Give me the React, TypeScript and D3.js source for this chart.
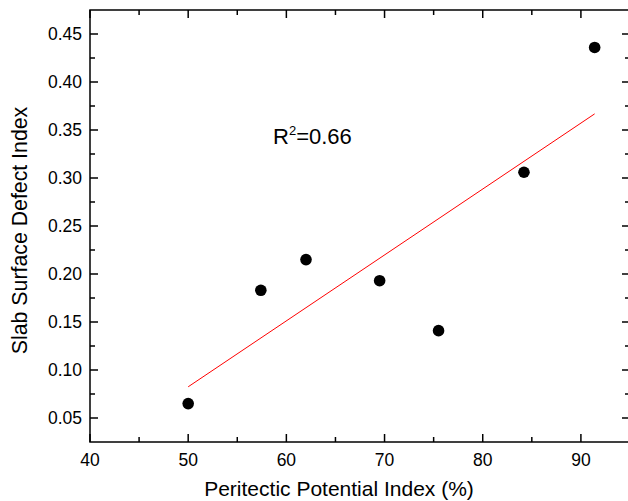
import React from "react";
import * as d3 from "d3";

const xValues = [50, 57.4, 62.0, 69.5, 75.5, 84.2, 91.4];
const yValues = [0.065, 0.183, 0.215, 0.193, 0.141, 0.306, 0.436];
const fitX = [50, 91.4];
const fitY = [0.0825, 0.3668];
const xMajor = [40, 50, 60, 70, 80, 90];
const xMinor = [45, 55, 65, 75, 85, 95];
const yMajor = [0.05, 0.1, 0.15, 0.2, 0.25, 0.3, 0.35, 0.4, 0.45];
const yMinor = [0.075, 0.125, 0.175, 0.225, 0.275, 0.325, 0.375, 0.425];
const xTitle = "Peritectic Potential Index (%)";
const yTitle = "Slab Surface Defect Index";

const W = 628, H = 501;
const L = 90, R = 630, T = 10, B = 442;
const FONT = "Arial, 'Liberation Sans', sans-serif";

export default function App() {
  const x = d3.scaleLinear().domain([40, 95]).range([L, R]);
  const y = d3.scaleLinear().domain([0.025, 0.475]).range([B, T]);
  const line = d3.line<number>().x((d) => x(d)).y((_, i) => y(fitY[i]));
  const major = 8, minor = 5;
  const ax = { stroke: "#000", strokeWidth: 1.5 };
  return (
    <svg width={W} height={H} style={{ position: "absolute", left: 0, top: 0, background: "#fff" }} fontFamily={FONT}>
      <rect x={0} y={0} width={W} height={H} fill="#fff" />
      <path d={line(fitX) || ""} fill="none" stroke="#ff0000" strokeWidth={1} />
      {xValues.map((v, i) => (
        <circle key={i} cx={x(v)} cy={y(yValues[i])} r={5.8} fill="#000" />
      ))}
      <rect x={L} y={T} width={R - L} height={B - T} fill="none" {...ax} />
      {xMajor.map((v) => (
        <g key={"xm" + v}>
          <line x1={x(v)} x2={x(v)} y1={B} y2={B - major} {...ax} />
          <line x1={x(v)} x2={x(v)} y1={T} y2={T + major} {...ax} />
          <text x={x(v)} y={466} fontSize={17.5} textAnchor="middle">{v}</text>
        </g>
      ))}
      {xMinor.map((v) => (
        <g key={"xn" + v}>
          <line x1={x(v)} x2={x(v)} y1={B} y2={B - minor} {...ax} />
          <line x1={x(v)} x2={x(v)} y1={T} y2={T + minor} {...ax} />
        </g>
      ))}
      {yMajor.map((v) => (
        <g key={"ym" + v}>
          <line x1={L} x2={L + major} y1={y(v)} y2={y(v)} {...ax} />
          <line x1={R} x2={R - major} y1={y(v)} y2={y(v)} {...ax} />
          <text x={82} y={y(v)} dy="0.36em" fontSize={17.5} textAnchor="end">{v.toFixed(2)}</text>
        </g>
      ))}
      {yMinor.map((v) => (
        <g key={"yn" + v}>
          <line x1={L} x2={L + minor} y1={y(v)} y2={y(v)} {...ax} />
          <line x1={R} x2={R - minor} y1={y(v)} y2={y(v)} {...ax} />
        </g>
      ))}
      <text x={339} y={495.5} fontSize={21} textAnchor="middle">{xTitle}</text>
      <text transform={`translate(27,230.5) rotate(-90)`} fontSize={21.3} textAnchor="middle">{yTitle}</text>
      <text x={273} y={144} fontSize={22}>
        R<tspan fontSize={13} dy={-9}>2</tspan><tspan dy={9}>=0.66</tspan>
      </text>
    </svg>
  );
}
